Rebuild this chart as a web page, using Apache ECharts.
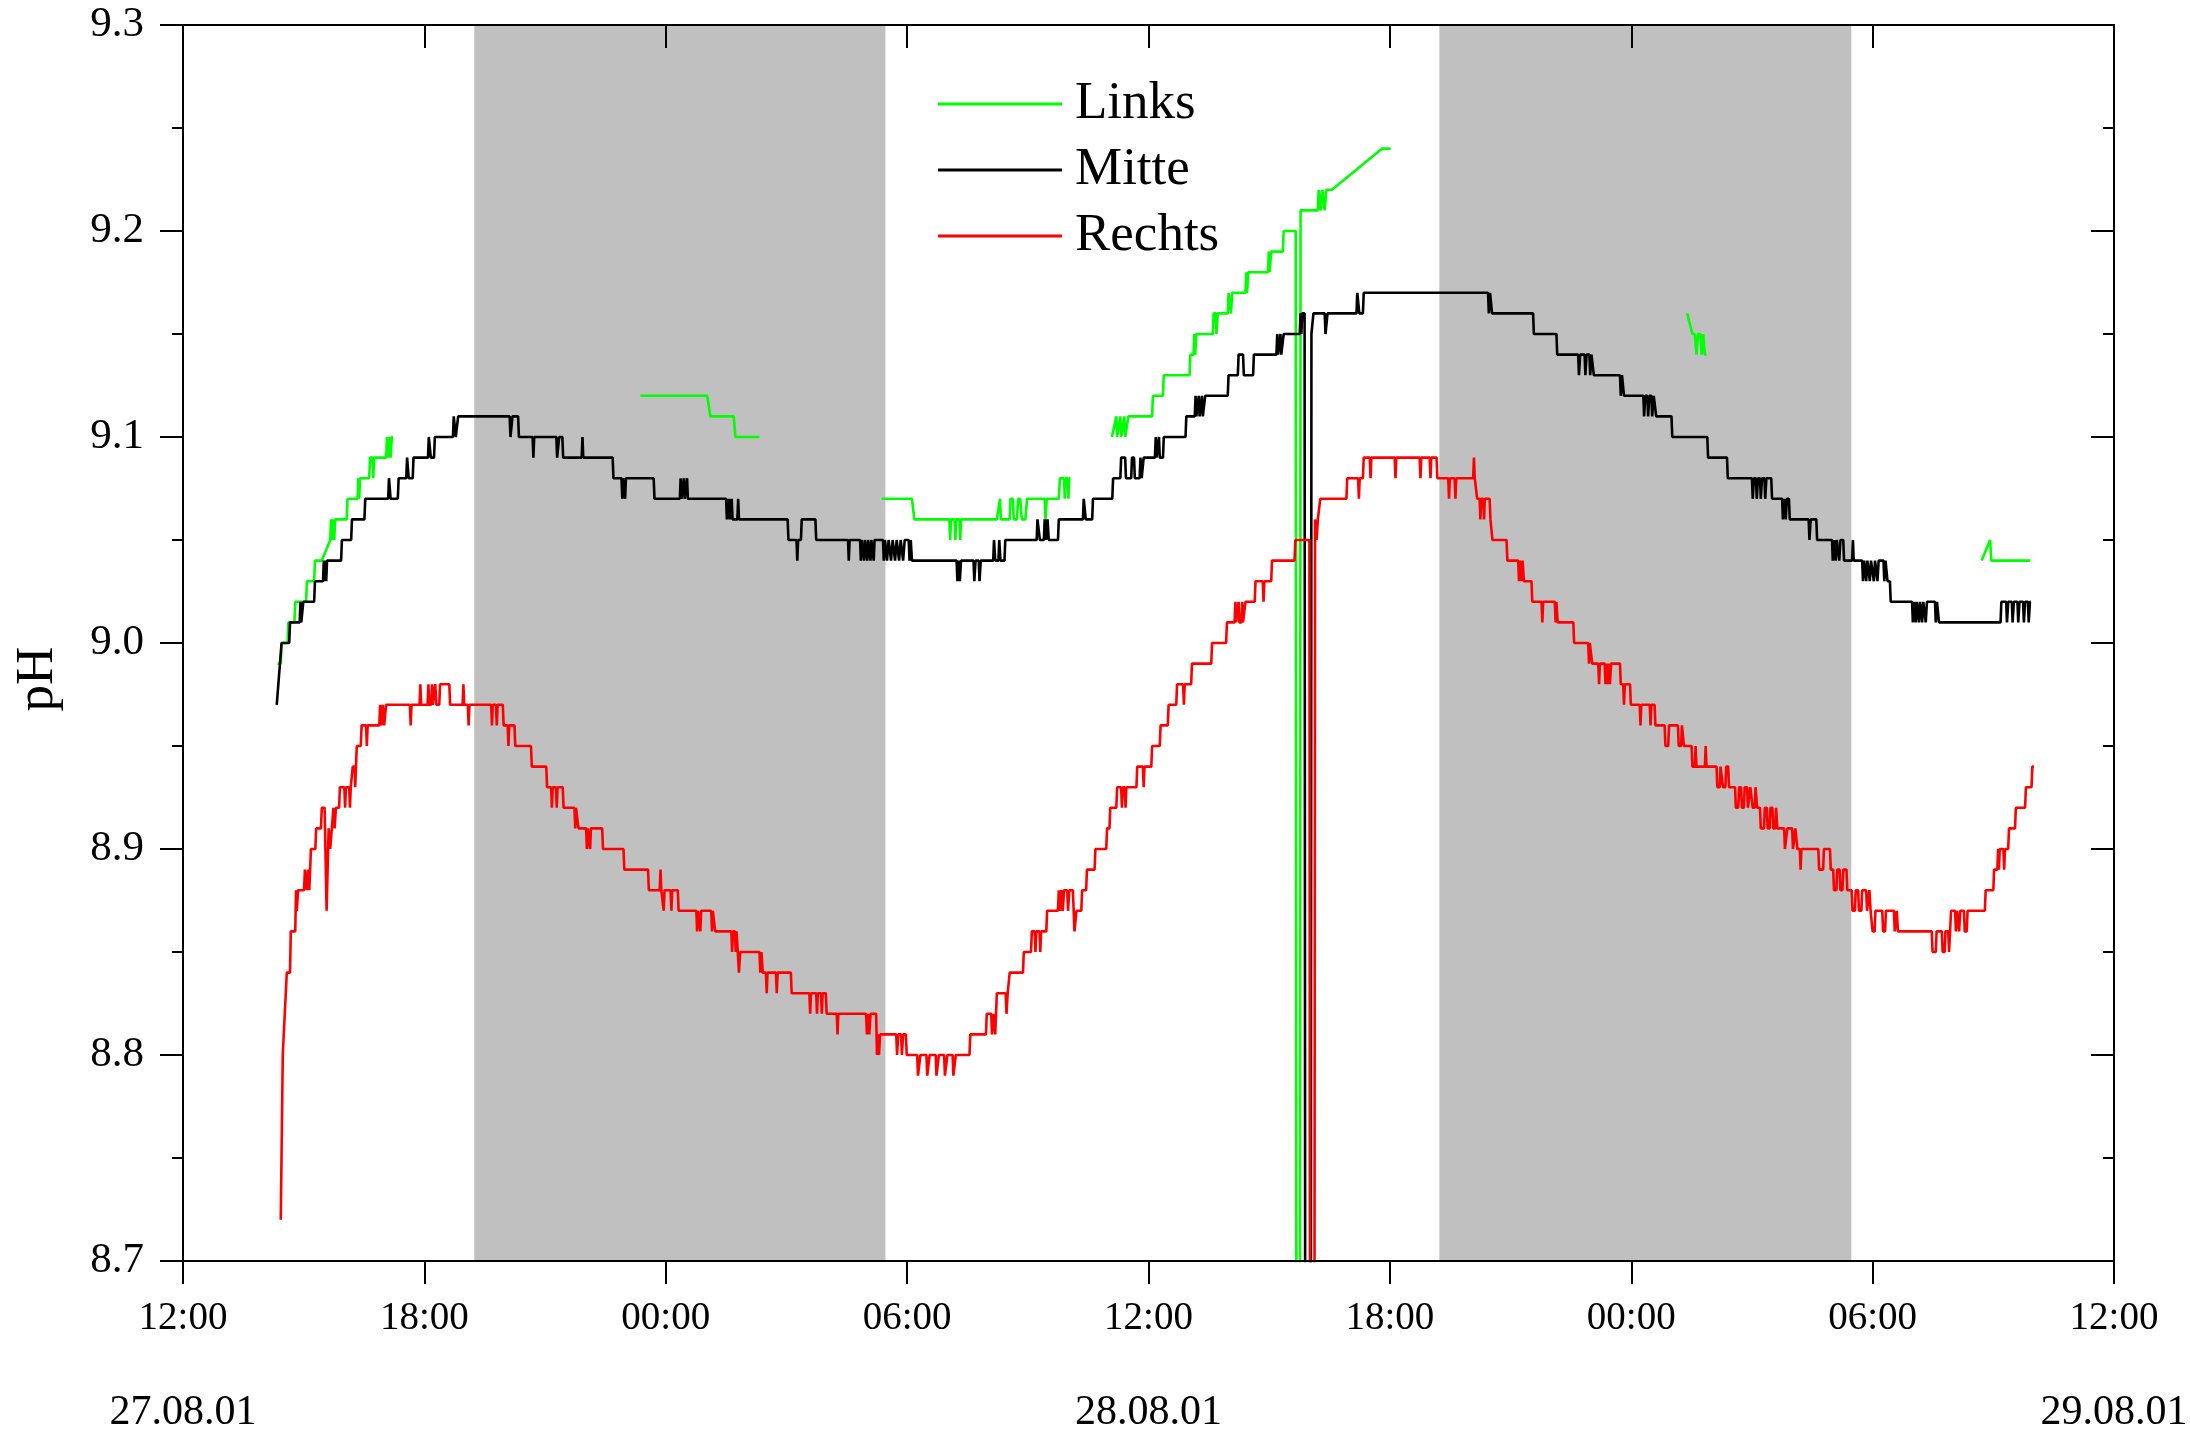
<!DOCTYPE html>
<html>
<head>
<meta charset="utf-8">
<script src="https://cdn.jsdelivr.net/npm/echarts@6/dist/echarts.min.js"></script>
<style>
html,body{margin:0;padding:0;background:#fff;}
#chart{width:2190px;height:1439px;}
</style>
</head>
<body>
<div id="chart"></div>
<script>
// hours since 27.08.01 12:00
const xTickLabels = ['12:00','18:00','00:00','06:00','12:00','18:00','00:00','06:00','12:00'];
const dateTickHours = [0, 24, 48];
const dateLabels = ['27.08.01','28.08.01','29.08.01'];
const nightStart = [7.24, 31.23];
const nightEnd = [17.46, 41.47];
const seriesNames = ['Links','Mitte','Rechts'];
const GAP = ['-','-'];

const links = [
[2.35,8.99],[2.43,8.99],[2.45,9.00],[2.60,9.00],[2.62,9.01],[2.77,9.01],[2.79,9.02],[3.06,9.02],[3.08,9.03],[3.26,9.03],[3.28,9.04],[3.45,9.04],[3.66,9.05],[3.68,9.06],[3.70,9.05],[3.73,9.06],[3.76,9.05],[3.78,9.06],[4.07,9.06],[4.09,9.07],[4.34,9.07],[4.36,9.08],[4.38,9.07],[4.40,9.08],[4.63,9.08],[4.65,9.09],[4.71,9.09],[4.73,9.08],[4.75,9.09],[5.05,9.09],[5.07,9.10],[5.10,9.09],[5.13,9.10],[5.16,9.09],[5.19,9.10],[5.22,9.10],
GAP,
[11.37,9.12],[13.03,9.12],[13.11,9.11],[13.69,9.11],[13.73,9.10],[14.33,9.10],
GAP,
[17.37,9.07],[18.12,9.07],[18.18,9.06],[19.05,9.06],[19.07,9.05],[19.09,9.06],[19.18,9.06],[19.20,9.05],[19.22,9.06],[19.30,9.06],[19.32,9.05],[19.34,9.06],[20.23,9.06],[20.31,9.07],[20.33,9.06],[20.55,9.06],[20.57,9.07],[20.63,9.07],[20.65,9.06],[20.73,9.06],[20.76,9.07],[20.81,9.07],[20.85,9.06],[20.94,9.06],[20.98,9.07],[21.42,9.07],[21.44,9.06],[21.47,9.07],[21.77,9.07],[21.80,9.08],[21.90,9.08],[21.92,9.07],[21.94,9.08],[21.99,9.08],[22.01,9.07],[22.03,9.08],[22.06,9.08],
GAP,
[23.09,9.10],[23.20,9.11],[23.22,9.10],[23.30,9.11],[23.32,9.10],[23.40,9.11],[23.42,9.10],[23.50,9.11],[24.09,9.11],[24.11,9.12],[24.36,9.12],[24.38,9.13],[25.02,9.13],[25.04,9.14],[25.12,9.14],[25.14,9.15],[25.16,9.14],[25.19,9.15],[25.60,9.15],[25.62,9.16],[25.67,9.16],[25.69,9.15],[25.72,9.16],[25.97,9.16],[25.99,9.17],[26.03,9.17],[26.05,9.16],[26.08,9.17],[26.41,9.17],[26.43,9.18],[26.45,9.17],[26.48,9.18],[26.97,9.18],[26.99,9.19],[27.01,9.18],[27.05,9.19],[27.34,9.19],[27.36,9.20],[27.66,9.20],[27.68,8.5],[27.76,8.5],[27.78,9.21],[28.21,9.21],[28.23,9.22],[28.28,9.21],[28.32,9.22],[28.38,9.21],[28.42,9.22],[28.56,9.22],[29.81,9.24],[30.02,9.24],
GAP,
[37.39,9.16],[37.52,9.15],[37.58,9.15],[37.62,9.14],[37.66,9.15],[37.72,9.15],[37.75,9.14],[37.79,9.15],[37.83,9.14],[37.87,9.14],
GAP,
[44.71,9.04],[44.92,9.05],[44.95,9.04],[45.92,9.04]
];

const mitte = [
[2.33,8.97],[2.41,8.99],[2.45,9.00],[2.64,9.00],[2.66,9.01],[2.90,9.01],[2.92,9.02],[2.94,9.01],[2.97,9.01],[2.99,9.02],[3.26,9.02],[3.28,9.03],[3.48,9.03],[3.50,9.04],[3.52,9.03],[3.54,9.04],[3.56,9.03],[3.58,9.04],[3.93,9.04],[3.95,9.05],[4.18,9.05],[4.20,9.06],[4.51,9.06],[4.53,9.07],[5.10,9.07],[5.12,9.08],[5.14,9.08],[5.16,9.07],[5.34,9.07],[5.36,9.08],[5.55,9.08],[5.57,9.09],[5.59,9.09],[5.61,9.08],[5.71,9.08],[5.73,9.09],[6.09,9.09],[6.11,9.10],[6.14,9.10],[6.16,9.09],[6.24,9.09],[6.26,9.10],[6.71,9.10],[6.73,9.11],[6.76,9.11],[6.78,9.10],[6.82,9.10],[6.84,9.11],[8.12,9.11],[8.14,9.10],[8.17,9.10],[8.19,9.11],[8.33,9.11],[8.35,9.10],[8.69,9.10],[8.71,9.09],[8.73,9.10],[9.28,9.10],[9.30,9.09],[9.33,9.09],[9.35,9.10],[9.43,9.10],[9.45,9.09],[9.91,9.09],[9.93,9.10],[9.95,9.09],[10.68,9.09],[10.70,9.08],[10.90,9.08],[10.92,9.07],[10.94,9.08],[10.97,9.08],[10.99,9.07],[11.01,9.08],[11.70,9.08],[11.72,9.07],[12.35,9.07],[12.37,9.08],[12.39,9.07],[12.43,9.07],[12.45,9.08],[12.47,9.07],[12.51,9.07],[12.53,9.08],[12.55,9.07],[13.50,9.07],[13.52,9.06],[13.55,9.06],[13.57,9.07],[13.59,9.06],[13.62,9.06],[13.64,9.07],[13.66,9.06],[13.78,9.06],[13.80,9.07],[13.82,9.06],
[15.03,9.06],[15.05,9.05],[15.25,9.05],[15.27,9.04],[15.29,9.05],[15.36,9.05],[15.38,9.06],[15.72,9.06],[15.74,9.05],[16.53,9.05],[16.55,9.04],[16.57,9.05],[16.83,9.05],[16.85,9.04],[16.87,9.05],[16.91,9.05],[16.93,9.04],[16.95,9.05],[16.99,9.05],[17.01,9.04],[17.03,9.05],[17.07,9.05],[17.09,9.04],[17.11,9.05],[17.15,9.05],[17.17,9.04],[17.19,9.05],[17.40,9.05],[17.42,9.04],[17.45,9.05],[17.50,9.04],[17.54,9.05],[17.60,9.04],[17.64,9.05],[17.70,9.04],[17.74,9.05],[17.80,9.04],[17.84,9.05],[17.90,9.04],[17.94,9.05],[18.04,9.05],[18.06,9.04],[18.09,9.05],[18.12,9.04],
[19.23,9.04],[19.25,9.03],[19.28,9.04],[19.31,9.03],[19.34,9.04],[19.65,9.04],[19.67,9.03],[19.70,9.04],[19.78,9.04],[19.80,9.03],[19.83,9.04],[20.14,9.04],[20.16,9.05],[20.19,9.04],[20.27,9.04],[20.29,9.05],[20.32,9.04],[20.42,9.04],[20.44,9.05],
[21.22,9.05],[21.24,9.06],[21.28,9.06],[21.30,9.05],[21.40,9.05],[21.42,9.06],[21.45,9.05],[21.49,9.06],[21.52,9.05],[21.75,9.05],[21.77,9.06],[22.37,9.06],[22.39,9.07],[22.42,9.07],[22.44,9.06],[22.60,9.06],[22.62,9.07],[23.10,9.07],[23.12,9.08],[23.30,9.08],[23.32,9.09],[23.42,9.09],[23.44,9.08],[23.57,9.08],[23.59,9.09],[23.64,9.09],[23.66,9.08],[23.78,9.08],[23.80,9.09],[23.83,9.08],[23.86,9.08],[23.88,9.09],[24.16,9.09],[24.18,9.10],[24.20,9.09],[24.24,9.09],[24.26,9.10],[24.28,9.09],[24.36,9.09],[24.38,9.10],[24.92,9.10],[24.94,9.11],[25.15,9.11],[25.17,9.12],[25.19,9.11],[25.23,9.11],[25.25,9.12],[25.27,9.11],[25.31,9.11],[25.33,9.12],[25.35,9.11],[25.39,9.11],[25.41,9.12],[25.97,9.12],[25.99,9.13],[26.22,9.13],[26.24,9.14],[26.35,9.14],[26.37,9.13],[26.60,9.13],[26.62,9.14],[27.18,9.14],[27.20,9.15],[27.22,9.14],[27.26,9.14],[27.28,9.15],[27.30,9.14],[27.34,9.14],[27.36,9.15],[27.76,9.15],[27.78,9.16],[27.80,9.15],[27.82,9.16],[27.88,9.16],[27.90,8.5],[28.03,8.5],[28.05,9.15],[28.08,9.15],[28.10,9.16],[28.38,9.16],[28.40,9.15],[28.43,9.15],[28.45,9.16],[29.17,9.16],[29.19,9.17],[29.22,9.17],[29.24,9.16],[29.33,9.16],[29.35,9.17],[32.44,9.17],[32.46,9.16],[32.49,9.17],[32.52,9.17],[32.54,9.16],[33.56,9.16],[33.58,9.15],[34.14,9.15],[34.16,9.14],[34.68,9.14],[34.70,9.13],[34.73,9.14],[34.84,9.14],[34.86,9.13],[34.89,9.14],[34.96,9.14],[34.98,9.13],[35.01,9.14],[35.05,9.14],[35.07,9.13],[35.72,9.13],[35.74,9.12],[35.77,9.13],[35.80,9.13],[35.82,9.12],[36.30,9.12],[36.32,9.11],[36.35,9.12],[36.40,9.12],[36.42,9.11],[36.45,9.12],[36.50,9.12],[36.52,9.11],[36.56,9.12],[36.60,9.12],[36.62,9.11],[37.00,9.11],[37.02,9.10],[37.89,9.10],[37.91,9.09],[38.38,9.09],[38.40,9.08],[39.00,9.08],[39.02,9.07],[39.05,9.08],[39.10,9.08],[39.12,9.07],[39.15,9.08],[39.20,9.08],[39.22,9.07],[39.25,9.08],[39.31,9.08],[39.33,9.07],[39.36,9.08],[39.48,9.08],[39.50,9.07],[39.75,9.07],[39.77,9.06],[39.80,9.07],[39.84,9.06],[39.87,9.07],[39.92,9.07],[39.94,9.06],[40.41,9.06],[40.43,9.05],[40.46,9.06],[40.60,9.06],[40.62,9.05],[40.99,9.05],[41.01,9.04],[41.04,9.05],[41.08,9.04],[41.11,9.05],[41.15,9.05],[41.17,9.04],[41.20,9.05],[41.27,9.05],[41.29,9.04],[41.49,9.04],[41.51,9.05],[41.53,9.04],[41.74,9.04],[41.76,9.03],[41.79,9.04],[41.84,9.03],[41.87,9.04],[41.93,9.03],[41.96,9.04],[42.03,9.03],[42.06,9.04],[42.12,9.03],[42.15,9.04],[42.27,9.04],[42.29,9.03],[42.32,9.04],[42.35,9.04],[42.37,9.03],[42.43,9.03],[42.45,9.02],[42.98,9.02],[43.00,9.01],[43.03,9.02],[43.07,9.01],[43.10,9.02],[43.15,9.01],[43.18,9.02],[43.23,9.01],[43.26,9.02],[43.32,9.01],[43.35,9.02],[43.55,9.02],[43.57,9.01],[43.60,9.02],[43.63,9.02],[43.65,9.01],[45.18,9.01],[45.20,9.02],[45.32,9.02],[45.34,9.01],[45.37,9.02],[45.46,9.02],[45.48,9.01],[45.51,9.02],[45.60,9.02],[45.62,9.01],[45.65,9.02],[45.74,9.02],[45.76,9.01],[45.79,9.02],[45.86,9.02],[45.88,9.01],[45.91,9.02],[45.93,9.02]
];

const rechts = [
[2.43,8.72],[2.48,8.80],[2.58,8.84],[2.66,8.84],[2.68,8.86],[2.79,8.86],[2.81,8.88],[2.83,8.87],[2.86,8.88],[3.01,8.88],[3.03,8.89],[3.08,8.88],[3.11,8.89],[3.14,8.88],[3.16,8.88],[3.18,8.90],[3.29,8.90],[3.31,8.91],[3.43,8.91],[3.45,8.92],[3.52,8.92],[3.57,8.87],[3.62,8.91],[3.66,8.90],[3.70,8.91],[3.74,8.92],[3.77,8.91],[3.80,8.92],[3.88,8.92],[3.90,8.93],[4.01,8.93],[4.03,8.92],[4.05,8.93],[4.13,8.93],[4.15,8.92],[4.17,8.93],[4.20,8.93],[4.22,8.94],[4.27,8.94],[4.28,8.93],[4.30,8.94],[4.31,8.94],[4.32,8.95],[4.42,8.95],[4.44,8.96],[4.55,8.96],[4.57,8.95],[4.59,8.96],[4.88,8.96],[4.90,8.97],[4.93,8.96],[4.97,8.97],[5.00,8.96],[5.03,8.96],[5.05,8.97],[5.64,8.97],[5.66,8.96],[5.68,8.97],[5.88,8.97],[5.90,8.98],[5.92,8.97],[6.08,8.97],[6.10,8.98],[6.12,8.97],[6.17,8.97],[6.19,8.98],[6.21,8.97],[6.25,8.97],[6.27,8.98],[6.30,8.97],[6.37,8.97],[6.39,8.98],[6.62,8.98],[6.64,8.97],[6.95,8.97],[6.97,8.98],[6.99,8.97],[7.08,8.97],[7.10,8.96],[7.12,8.97],[7.66,8.97],[7.68,8.96],[7.70,8.97],[7.78,8.97],[7.80,8.96],[7.82,8.97],[7.95,8.97],[7.97,8.96],[8.07,8.96],[8.09,8.95],[8.11,8.96],[8.24,8.96],[8.26,8.95],[8.65,8.95],[8.67,8.94],[9.03,8.94],[9.05,8.93],[9.15,8.93],[9.17,8.92],[9.19,8.93],[9.27,8.93],[9.29,8.92],[9.31,8.93],[9.44,8.93],[9.46,8.92],[9.73,8.92],[9.75,8.91],[9.77,8.92],[9.81,8.92],[9.83,8.91],[10.02,8.91],[10.04,8.90],[10.06,8.91],[10.10,8.91],[10.12,8.90],[10.14,8.91],[10.42,8.91],[10.44,8.90],[10.95,8.90],[10.97,8.89],[11.56,8.89],[11.58,8.88],[11.85,8.88],[11.87,8.89],[11.89,8.88],[11.93,8.88],[11.95,8.87],[11.97,8.88],[12.12,8.88],[12.14,8.87],[12.16,8.88],[12.30,8.88],[12.32,8.87],[12.76,8.87],[12.78,8.86],[12.80,8.87],[12.84,8.87],[12.86,8.86],[12.88,8.87],[13.13,8.87],[13.15,8.86],[13.17,8.87],[13.21,8.87],[13.23,8.86],[13.63,8.86],[13.65,8.85],[13.67,8.86],[13.72,8.86],[13.74,8.85],[13.76,8.86],[13.80,8.86],[13.82,8.84],[13.85,8.85],
[14.33,8.85],[14.35,8.84],[14.38,8.85],[14.41,8.84],[14.49,8.84],[14.51,8.83],[14.53,8.84],[14.74,8.84],[14.76,8.83],[14.78,8.84],[15.11,8.84],[15.13,8.83],[15.57,8.83],[15.59,8.82],[15.61,8.83],[15.74,8.83],[15.76,8.82],[15.78,8.83],[15.86,8.83],[15.88,8.82],[15.90,8.83],[15.98,8.83],[16.00,8.82],[16.25,8.82],[16.27,8.81],[16.29,8.82],[16.98,8.82],[17.00,8.81],[17.03,8.82],[17.06,8.81],[17.09,8.82],[17.23,8.82],[17.25,8.80],[17.28,8.81],[17.30,8.80],[17.33,8.81],[17.73,8.81],[17.75,8.80],[17.78,8.81],[17.85,8.81],[17.87,8.80],[17.90,8.81],[17.97,8.81],[17.99,8.80],
[18.25,8.80],[18.27,8.79],[18.31,8.79],[18.33,8.80],[18.48,8.80],[18.50,8.79],[18.54,8.79],[18.56,8.80],[18.71,8.80],[18.73,8.79],[18.77,8.79],[18.79,8.80],[18.92,8.80],[18.94,8.79],[18.98,8.79],[19.00,8.80],[19.13,8.80],[19.15,8.79],[19.19,8.79],[19.21,8.80],
[19.55,8.80],[19.57,8.81],[19.96,8.81],[19.98,8.82],[20.09,8.82],[20.11,8.81],[20.14,8.82],[20.19,8.81],[20.21,8.82],[20.23,8.83],[20.45,8.83],[20.47,8.82],[20.50,8.83],[20.53,8.83],[20.55,8.84],[20.88,8.84],[20.90,8.85],[21.08,8.85],[21.10,8.86],[21.17,8.86],[21.19,8.85],[21.21,8.86],[21.29,8.86],[21.31,8.85],[21.33,8.86],[21.46,8.86],[21.48,8.87],[21.75,8.87],[21.77,8.88],[21.80,8.87],[21.83,8.88],[21.87,8.87],[21.90,8.88],[21.98,8.88],[22.00,8.87],[22.03,8.88],[22.12,8.88],[22.16,8.86],[22.21,8.87],[22.33,8.87],[22.35,8.88],[22.45,8.88],[22.47,8.89],[22.66,8.89],[22.68,8.90],[22.95,8.90],[22.97,8.91],[23.03,8.91],[23.05,8.92],[23.20,8.92],[23.22,8.93],[23.32,8.93],[23.34,8.92],[23.36,8.93],[23.41,8.93],[23.43,8.92],[23.45,8.93],[23.70,8.93],[23.72,8.94],[23.86,8.94],[23.88,8.93],[23.90,8.94],[24.07,8.94],[24.09,8.95],[24.28,8.95],[24.30,8.96],[24.48,8.96],[24.50,8.97],[24.69,8.97],[24.71,8.98],[24.86,8.98],[24.88,8.97],[24.90,8.98],[25.06,8.98],[25.08,8.99],
[25.56,8.99],[25.58,9.00],[25.93,9.00],[25.95,9.01],[26.14,9.01],[26.16,9.02],[26.18,9.01],[26.22,9.01],[26.24,9.02],[26.26,9.01],[26.31,9.01],[26.33,9.02],[26.35,9.01],[26.39,9.01],[26.41,9.02],[26.64,9.02],[26.66,9.03],[26.84,9.03],[26.86,9.02],[26.88,9.03],[27.05,9.03],[27.07,9.04],[27.63,9.04],[27.65,9.05],[28.00,9.05],[28.02,8.5],[28.12,8.5],[28.14,9.06],[28.18,9.05],[28.21,9.06],[28.25,9.06],[28.27,9.07],[28.92,9.07],[28.94,9.08],[29.21,9.08],[29.23,9.07],[29.25,9.08],[29.33,9.08],[29.35,9.09],[29.50,9.09],[29.52,9.08],[29.54,9.09],[30.12,9.09],[30.14,9.08],[30.16,9.09],[30.74,9.09],[30.76,9.08],[30.78,9.09],[30.99,9.09],[31.01,9.08],[31.03,9.09],[31.16,9.09],[31.18,9.08],[31.45,9.08],[31.47,9.07],[31.49,9.08],[31.61,9.08],[31.63,9.07],[31.65,9.08],[32.07,9.08],[32.09,9.09],[32.11,9.08],[32.15,9.08],[32.17,9.07],[32.23,9.07],[32.25,9.06],[32.27,9.07],[32.32,9.07],[32.34,9.06],[32.36,9.07],[32.48,9.07],[32.50,9.06],[32.53,9.06],[32.55,9.05],[32.90,9.05],[32.92,9.04],[33.19,9.04],[33.21,9.03],[33.23,9.04],[33.27,9.03],[33.30,9.04],[33.33,9.03],[33.52,9.03],[33.54,9.02],[33.77,9.02],[33.79,9.01],[33.81,9.02],[34.10,9.02],[34.12,9.01],[34.14,9.02],[34.15,9.02],[34.17,9.01],[34.56,9.01],[34.58,9.00],[34.93,9.00],[34.95,8.99],[34.97,9.00],[35.01,9.00],[35.03,8.99],[35.18,8.99],[35.20,8.98],[35.22,8.99],[35.34,8.99],[35.36,8.98],[35.38,8.99],[35.41,8.98],[35.44,8.99],[35.47,8.98],[35.50,8.99],[35.72,8.99],[35.74,8.98],[35.80,8.98],[35.82,8.97],[35.84,8.98],[35.97,8.98],[35.99,8.97],[36.21,8.97],[36.23,8.96],[36.25,8.97],[36.46,8.97],[36.48,8.96],[36.50,8.97],[36.58,8.97],[36.60,8.96],
[36.83,8.96],[36.85,8.95],[36.92,8.95],[36.94,8.96],[37.16,8.96],[37.18,8.95],[37.24,8.95],[37.26,8.96],[37.29,8.96],[37.31,8.95],[37.50,8.95],[37.52,8.94],[37.58,8.94],[37.60,8.95],[37.62,8.94],[37.83,8.94],[37.85,8.95],[37.87,8.94],[38.12,8.94],[38.14,8.93],[38.20,8.93],[38.22,8.94],[38.26,8.94],[38.28,8.93],[38.34,8.93],[38.36,8.94],[38.41,8.94],[38.43,8.93],[38.58,8.93],[38.60,8.92],[38.66,8.92],[38.68,8.93],[38.73,8.93],[38.75,8.92],[38.80,8.92],[38.82,8.93],[38.88,8.93],[38.90,8.92],[38.94,8.92],[38.96,8.93],[39.00,8.93],[39.02,8.92],[39.07,8.92],[39.09,8.93],[39.11,8.93],[39.13,8.92],[39.20,8.92],[39.22,8.91],[39.30,8.91],[39.32,8.92],[39.37,8.92],[39.39,8.91],[39.44,8.91],[39.46,8.92],[39.51,8.92],[39.53,8.91],[39.58,8.91],[39.60,8.92],[39.61,8.92],[39.63,8.91],[39.80,8.91],[39.82,8.90],[39.86,8.90],[39.88,8.91],[40.00,8.91],[40.02,8.90],[40.06,8.90],[40.08,8.91],[40.11,8.91],[40.13,8.90],[40.19,8.90],[40.21,8.89],[40.23,8.90],[40.65,8.90],[40.67,8.89],[40.77,8.89],[40.79,8.90],[40.94,8.90],[40.96,8.89],[41.02,8.89],[41.04,8.88],[41.10,8.88],[41.12,8.89],[41.18,8.89],[41.20,8.88],[41.25,8.88],[41.27,8.89],[41.35,8.89],[41.37,8.88],[41.48,8.88],[41.50,8.87],[41.56,8.87],[41.58,8.88],[41.64,8.88],[41.66,8.87],[41.72,8.87],[41.74,8.88],[41.84,8.88],[41.86,8.87],[41.90,8.87],[41.92,8.88],[41.93,8.88],[41.95,8.87],[41.98,8.87],[42.00,8.86],[42.05,8.86],[42.07,8.87],[42.24,8.87],[42.26,8.86],[42.31,8.86],[42.33,8.87],[42.53,8.87],[42.55,8.86],[42.58,8.86],[42.60,8.87],[42.61,8.87],[42.63,8.86],[43.47,8.86],[43.49,8.85],[43.57,8.85],[43.59,8.86],[43.72,8.86],[43.74,8.85],[43.79,8.85],[43.81,8.86],[43.88,8.86],[43.90,8.85],[43.93,8.85],[43.95,8.87],[44.05,8.87],[44.07,8.86],[44.10,8.87],[44.15,8.86],[44.18,8.87],[44.27,8.87],[44.29,8.86],[44.34,8.86],[44.36,8.87],[44.79,8.87],[44.81,8.88],[45.00,8.88],[45.02,8.89],[45.10,8.89],[45.12,8.90],[45.14,8.89],[45.16,8.90],[45.25,8.90],[45.27,8.89],[45.29,8.90],[45.37,8.90],[45.39,8.91],[45.54,8.91],[45.56,8.92],[45.79,8.92],[45.81,8.93],[45.95,8.93],[45.97,8.94],[46.01,8.94]
];

const FONT = '"Liberation Serif", "Times New Roman", serif';
const yMin = 8.7, yMax = 9.3;

const chart = echarts.init(document.getElementById('chart'), null, {renderer: 'canvas'});

const axisLineStyle = {color: '#000', width: 2};

const option = {
  animation: false,
  backgroundColor: '#fff',
  grid: {left: 183, right: 76, top: 25, bottom: 178, containLabel: false, outerBoundsMode: 'none'},
  legend: {
    data: seriesNames,
    orient: 'vertical',
    left: 938,
    top: 76,
    icon: 'rect',
    itemWidth: 124,
    itemHeight: 3,
    itemGap: 10,
    padding: 0,
    textStyle: {fontFamily: FONT, fontSize: 53, lineHeight: 56, color: '#000', padding: [0, 0, 0, 8]},
    selectedMode: false
  },
  xAxis: [
    {
      type: 'value', min: 0, max: 48, interval: 6, position: 'bottom', z: 10,
      axisLine: {show: true, onZero: false, lineStyle: axisLineStyle},
      axisTick: {show: true, inside: false, length: 23, lineStyle: axisLineStyle},
      splitLine: {show: false},
      axisLabel: {
        show: true, margin: 11, showMinLabel: true, showMaxLabel: true,
        formatter: function (v) {
          const i = Math.round(v / 6);
          let s = '{t|' + xTickLabels[i] + '}';
          const j = dateTickHours.indexOf(Math.round(v));
          if (j >= 0) s += '\n{d|' + dateLabels[j] + '}';
          return s;
        },
        rich: {
          t: {fontFamily: FONT, fontSize: 39, lineHeight: 94, color: '#000'},
          d: {fontFamily: FONT, fontSize: 42, lineHeight: 94, color: '#000'}
        }
      }
    },
    {
      type: 'value', min: 0, max: 48, interval: 6, position: 'top', z: 10,
      axisLine: {show: true, onZero: false, lineStyle: axisLineStyle},
      axisTick: {show: true, inside: true, length: 23, lineStyle: axisLineStyle},
      splitLine: {show: false},
      axisLabel: {show: false}
    }
  ],
  yAxis: [
    {
      type: 'value', min: yMin, max: yMax, interval: 0.1, position: 'left', z: 10,
      axisLine: {show: true, onZero: false, lineStyle: axisLineStyle},
      axisTick: {show: true, inside: false, length: 23, lineStyle: axisLineStyle},
      minorTick: {show: true, splitNumber: 2, length: 11, lineStyle: axisLineStyle},
      splitLine: {show: false},
      minorSplitLine: {show: false},
      axisLabel: {
        show: true, margin: 39, showMinLabel: true, showMaxLabel: true,
        fontFamily: FONT, fontSize: 43, color: '#000',
        formatter: function (v) { return v.toFixed(1); }
      }
    },
    {
      type: 'value', min: yMin, max: yMax, interval: 0.1, position: 'right', z: 10,
      axisLine: {show: true, onZero: false, lineStyle: axisLineStyle},
      axisTick: {show: true, inside: true, length: 23, lineStyle: axisLineStyle},
      minorTick: {show: true, splitNumber: 2, length: 11, lineStyle: axisLineStyle},
      splitLine: {show: false},
      axisLabel: {show: false}
    }
  ],
  graphic: [
    {
      type: 'text', x: 38, y: 679, rotation: Math.PI / 2, z: 100,
      style: {text: 'pH', font: '53px ' + FONT, fill: '#000', align: 'center', verticalAlign: 'middle'}
    }
  ],
  series: [
    {
      type: 'custom', name: 'night', silent: true, z: 0,
      encode: {x: [0, 1]},
      data: nightStart.map(function (s, i) { return [s, nightEnd[i]]; }),
      renderItem: function (params, api) {
        const p0 = api.coord([api.value(0), yMax]);
        const p1 = api.coord([api.value(1), yMin]);
        return {type: 'rect', shape: {x: p0[0], y: p0[1], width: p1[0] - p0[0], height: p1[1] - p0[1]}, style: {fill: '#c0c0c0'}};
      }
    },
    {
      type: 'line', name: 'Links', data: links, symbol: 'none', showSymbol: false, z: 3,
      connectNulls: false, clip: true,
      lineStyle: {color: '#00ff00', width: 2.6}, itemStyle: {color: '#00ff00'}
    },
    {
      type: 'line', name: 'Mitte', data: mitte, symbol: 'none', showSymbol: false, z: 4,
      connectNulls: false, clip: true,
      lineStyle: {color: '#000000', width: 2.6}, itemStyle: {color: '#000000'}
    },
    {
      type: 'line', name: 'Rechts', data: rechts, symbol: 'none', showSymbol: false, z: 5,
      connectNulls: false, clip: true,
      lineStyle: {color: '#ff0000', width: 2.6}, itemStyle: {color: '#ff0000'}
    }
  ]
};
chart.setOption(option);
</script>
</body>
</html>
